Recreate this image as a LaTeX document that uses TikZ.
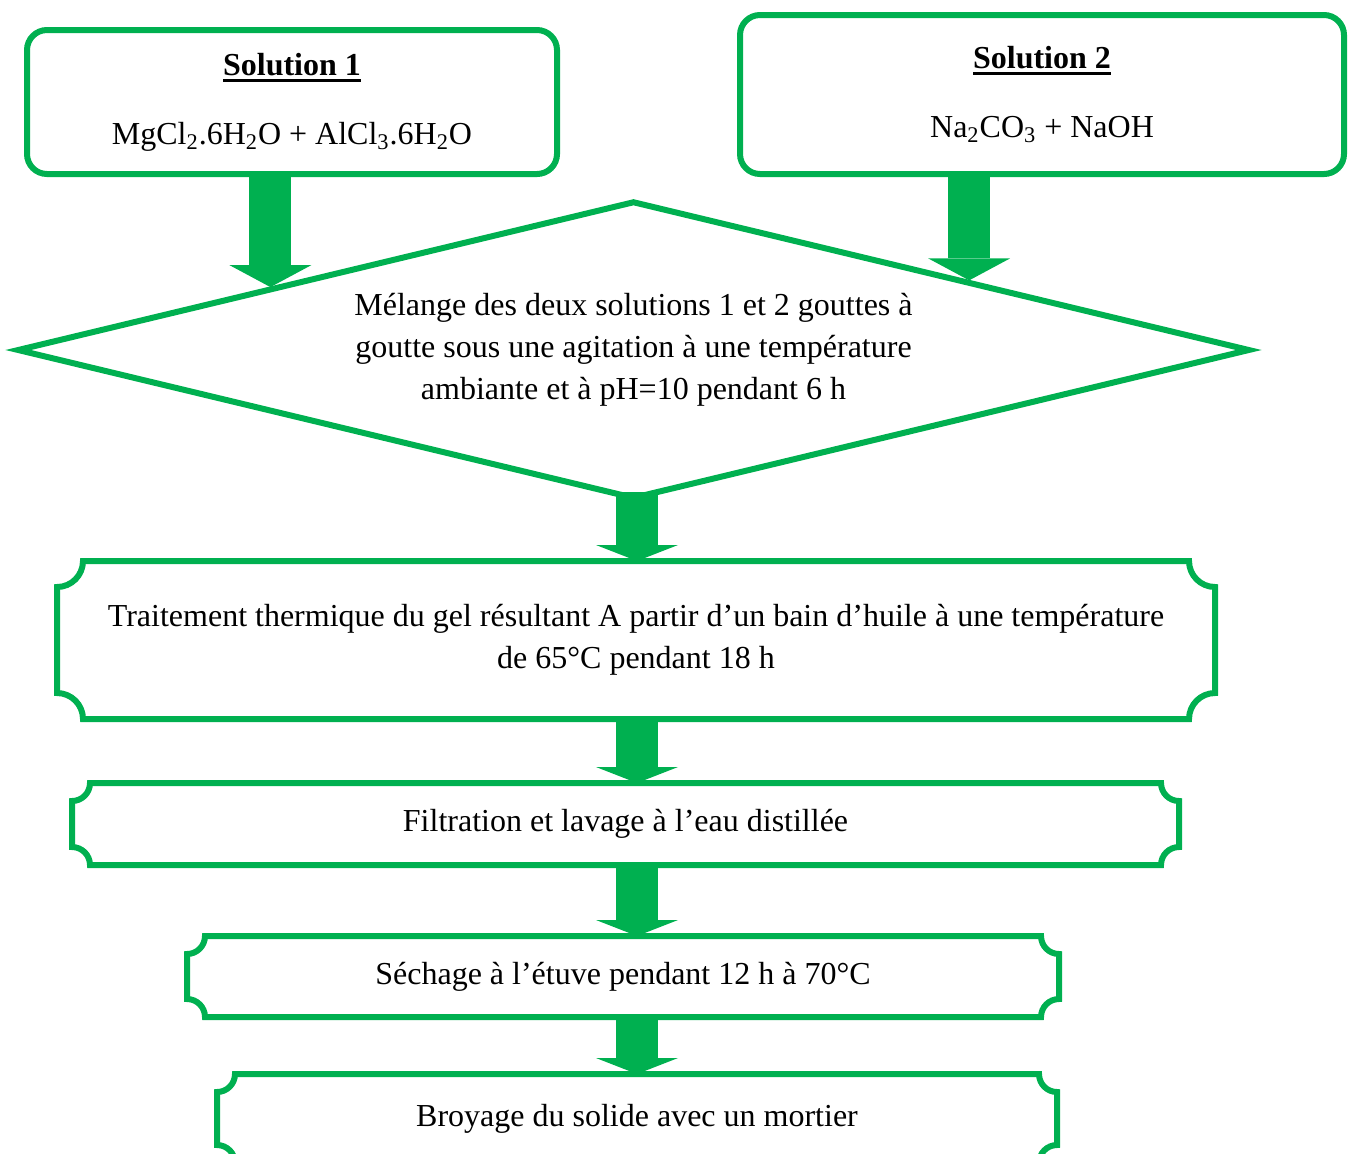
\documentclass[tikz,border=0pt]{standalone}
\usepackage{fontspec}
\setmainfont{Liberation Serif}
\usetikzlibrary{shapes.geometric,arrows.meta,calc}
\definecolor{leafgreen}{HTML}{00B050}
\newcommand{\heading}[1]{\setbox0\hbox{\textbf{#1}}\rlap{\rule[-3.5pt]{\wd0}{1.6pt}}\box0}

\tikzset{
  txt/.style={font=\fontsize{16}{21}\selectfont, align=center},
  soln/.style={txt, draw=leafgreen, line width=3pt, rounded corners=10pt, inner sep=0pt},
  mixbox/.style={txt, diamond, aspect=4.1376, draw=leafgreen, line width=3pt, inner sep=0pt},
  stage/.style={txt, inner sep=0pt, outer sep=0pt},
  bigflow/.style={leafgreen, line width=21pt, -{Triangle[width=41pt,length=11pt,line width=0pt]}},
  flow/.style={leafgreen, line width=21pt, -{Triangle[width=41pt,length=8pt,line width=0pt]}}
}
\newcommand{\plaque}[2]{%
  \draw[leafgreen, line width=3pt] ([yshift=-#2]#1.north west) arc[start angle=-90,end angle=0,radius=#2]
    -- ([xshift=-#2]#1.north east) arc[start angle=180,end angle=270,radius=#2]
    -- ([yshift=#2]#1.south east) arc[start angle=90,end angle=180,radius=#2]
    -- ([xshift=#2]#1.south west) arc[start angle=0,end angle=90,radius=#2] -- cycle;}

\begin{document}
\begin{tikzpicture}[x=0.5pt,y=-0.5pt]
\useasboundingbox (0,0) rectangle (1352,1153);

\node[soln, minimum width=265pt, minimum height=72pt] (sol1) at (292,102)
  {\heading{Solution 1}\\[13.5pt]MgCl\textsubscript{2}.6H\textsubscript{2}O + AlCl\textsubscript{3}.6H\textsubscript{2}O};
\node[soln, minimum width=302pt, minimum height=79.5pt] (sol2) at (1042,94.5)
  {\heading{Solution 2}\\[13.5pt]Na\textsubscript{2}CO\textsubscript{3} + NaOH};

\node[mixbox, minimum width=616.5pt, minimum height=149pt] (mix) at (633.5,350)
  {Mélange des deux solutions 1 et 2 gouttes à\\goutte sous une agitation à une température\\ambiante et à pH=10 pendant 6 h};

\node[stage, minimum width=579pt, minimum height=79pt] (heat) at (636,640)
  {Traitement thermique du gel résultant A partir d’un bain d’huile à une température\\de 65°C pendant 18 h};
\node[stage, minimum width=553.5pt, minimum height=41pt] (wash) at (625.5,824)
  {Filtration et lavage à l’eau distillée};
\node[stage, minimum width=436pt, minimum height=40.5pt] (dry) at (623,976.5)
  {Séchage à l’étuve pendant 12 h à 70°C};
\node[stage, minimum width=420pt, minimum height=44.5pt] (grind) at (637,1118.5)
  {Broyage du solide avec un mortier};

\plaque{heat}{13pt}
\plaque{wash}{9pt}
\plaque{dry}{9pt}
\plaque{grind}{9pt}

\coordinate (tip1) at ($(mix.west)!0.4139!(mix.north)$);
\coordinate (tip2) at ($(mix.north)!0.5418!(mix.east)$);
\coordinate (spine) at (637,0);

\draw[bigflow] (tip1 |- sol1.south) -- (tip1);
\draw[bigflow] (tip2 |- sol2.south) -- (tip2);
\draw[flow, shorten <=-5pt] (spine |- mix.south) -- (spine |- heat.north);
\draw[flow] (spine |- heat.south) -- (spine |- wash.north);
\draw[flow] (spine |- wash.south) -- (spine |- dry.north);
\draw[flow] (spine |- dry.south) -- (spine |- grind.north);
\end{tikzpicture}
\end{document}
